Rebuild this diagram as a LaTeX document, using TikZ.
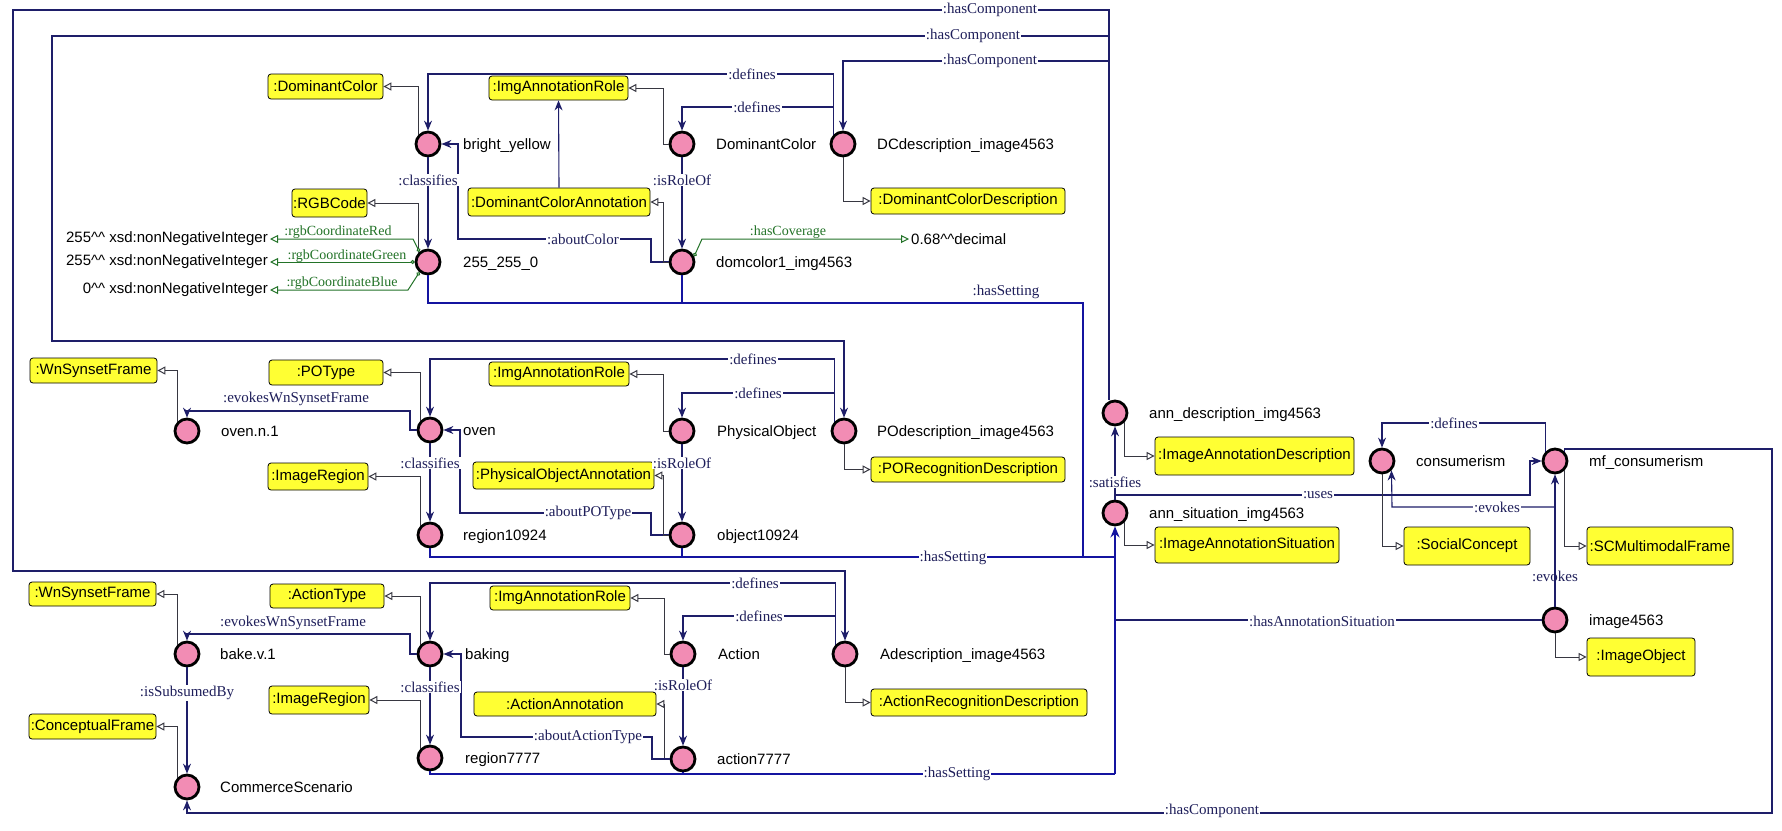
\documentclass[tikz,border=0pt]{standalone}
\usepackage{fontspec}
\setmainfont{Liberation Serif}
\setsansfont{Liberation Sans}
\usetikzlibrary{arrows.meta}
\definecolor{navy}{RGB}{30,30,105}
\definecolor{labc}{RGB}{30,30,90}
\definecolor{setc}{RGB}{20,20,160}
\definecolor{typc}{RGB}{55,55,65}
\definecolor{grnc}{RGB}{35,115,40}
\definecolor{pinkc}{RGB}{242,140,180}
\definecolor{yelc}{RGB}{255,255,51}
\begin{document}
\begin{tikzpicture}[x=1pt,y=-1pt,
  ind/.style={circle,draw=black,line width=2.8pt,fill=pinkc,minimum size=24pt,inner sep=0pt},
  cls/.style={rectangle,rounded corners=3pt,draw=black,line width=0.8pt,fill=yelc,inner sep=0pt,font=\sffamily\fontsize{15}{15}\selectfont},
  nl/.style={anchor=base west,inner sep=0pt,font=\sffamily\fontsize{15}{15}\selectfont},
  lit/.style={inner sep=2pt,font=\sffamily\fontsize{15}{15}\selectfont},
  el/.style={font=\fontsize{15}{15}\selectfont,text=labc,fill=white,inner sep=1pt},
  elnf/.style={font=\fontsize{15}{15}\selectfont,text=labc,inner sep=1pt},
  gl/.style={font=\fontsize{14}{14}\selectfont,text=grnc,inner sep=1pt},
  obj/.style={draw=navy,line width=1.1pt,-{Stealth[length=10pt,width=8pt]}},
  rel/.style={draw=navy,line width=1.1pt},
  typ/.style={draw=typc,line width=1pt,-{Triangle[open,length=8pt,width=8pt,fill=white]}},
  grn/.style={draw=grnc,line width=1pt,{Circle[open,length=4pt,fill=white]}-{Triangle[open,length=8pt,width=8pt,fill=white]}},
  hset/.style={draw=setc,line width=1.2pt},
]
\useasboundingbox (0,0) rectangle (1782,830);
\fill[white] (0,0) rectangle (1782,830);

% ---------- individuals ----------
\node[ind] (by) at (428,144) {};
\node[ind] (rgb) at (428,262) {};
\node[ind] (dc) at (682,144) {};
\node[ind] (dcd) at (843,144) {};
\node[ind] (dom) at (682,262) {};
\node[ind] (ovenn) at (187,431) {};
\node[ind] (oven) at (430,430) {};
\node[ind] (ra) at (430,535) {};
\node[ind] (po) at (682,431) {};
\node[ind] (pod) at (844,431) {};
\node[ind] (ob) at (682,535) {};
\node[ind] (bake) at (187,654) {};
\node[ind] (baking) at (430,654) {};
\node[ind] (rb) at (430,758) {};
\node[ind] (cs) at (187,787) {};
\node[ind] (action) at (683,654) {};
\node[ind] (adsc) at (845,654) {};
\node[ind] (act) at (683,759) {};
\node[ind] (ad) at (1115,413) {};
\node[ind] (as) at (1115,513) {};
\node[ind] (cons) at (1382,461) {};
\node[ind] (mf) at (1555,461) {};
\node[ind] (img) at (1555,620) {};

% ---------- individual names ----------
\node[nl] at (463,149) {bright\_yellow};
\node[nl] at (463,267) {255\_255\_0};
\node[nl] at (716,149) {DominantColor};
\node[nl] at (877,149) {DCdescription\_image4563};
\node[nl] at (716,267) {domcolor1\_img4563};
\node[nl] at (221,436) {oven.n.1};
\node[nl] at (463,435) {oven};
\node[nl] at (463,540) {region10924};
\node[nl] at (717,436) {PhysicalObject};
\node[nl] at (877,436) {POdescription\_image4563};
\node[nl] at (717,540) {object10924};
\node[nl] at (220,659) {bake.v.1};
\node[nl] at (465,659) {baking};
\node[nl] at (465,763) {region7777};
\node[nl] at (220,792) {CommerceScenario};
\node[nl] at (718,659) {Action};
\node[nl] at (880,659) {Adescription\_image4563};
\node[nl] at (717,764) {action7777};
\node[nl] at (1149,418) {ann\_description\_img4563};
\node[nl] at (1149,518) {ann\_situation\_img4563};
\node[nl] at (1416,466) {consumerism};
\node[nl] at (1589,466) {mf\_consumerism};
\node[nl] at (1589,625) {image4563};

% ---------- classes ----------
\node[cls,minimum width=115pt,minimum height=25pt] (bDomColor) at (325.5,86.5) {:DominantColor};
\node[cls,minimum width=75pt,minimum height=28pt] (bRGB) at (329.5,203) {:RGBCode};
\node[cls,minimum width=139pt,minimum height=24pt] (bIAR1) at (558.5,88) {:ImgAnnotationRole};
\node[cls,minimum width=182pt,minimum height=28pt] (bDCA) at (559,202) {:DominantColorAnnotation};
\node[cls,minimum width=194pt,minimum height=26pt] (bDCD) at (968,201) {:DominantColorDescription};
\node[cls,minimum width=127pt,minimum height=25pt] (bWn1) at (93.5,370.5) {:WnSynsetFrame};
\node[cls,minimum width=114pt,minimum height=25pt] (bPOType) at (326,372.5) {:POType};
\node[cls,minimum width=100pt,minimum height=27pt] (bIR1) at (318,476.5) {:ImageRegion};
\node[cls,minimum width=140pt,minimum height=24pt] (bIAR2) at (559,374) {:ImgAnnotationRole};
\node[cls,minimum width=181pt,minimum height=27pt] (bPOA) at (563.5,475.5) {:PhysicalObjectAnnotation};
\node[cls,minimum width=194pt,minimum height=25pt] (bPORD) at (968,469.5) {:PORecognitionDescription};
\node[cls,minimum width=199pt,minimum height=38pt] (bIAD) at (1254.5,456) {:ImageAnnotationDescription};
\node[cls,minimum width=184pt,minimum height=36pt] (bIAS) at (1247,545) {:ImageAnnotationSituation};
\node[cls,minimum width=126pt,minimum height=38pt] (bSC) at (1467,546) {:SocialConcept};
\node[cls,minimum width=146pt,minimum height=38pt] (bSCM) at (1660,546) {:SCMultimodalFrame};
\node[cls,minimum width=108pt,minimum height=38pt] (bIO) at (1641,657) {:ImageObject};
\node[cls,minimum width=127pt,minimum height=24pt] (bWn2) at (92.5,594) {:WnSynsetFrame};
\node[cls,minimum width=114pt,minimum height=24pt] (bAT) at (327,596) {:ActionType};
\node[cls,minimum width=100pt,minimum height=28pt] (bIR2) at (319,700) {:ImageRegion};
\node[cls,minimum width=127pt,minimum height=25pt] (bCF) at (92.5,726.5) {:ConceptualFrame};
\node[cls,minimum width=140pt,minimum height=24pt] (bIAR3) at (560,598) {:ImgAnnotationRole};
\node[cls,minimum width=182pt,minimum height=24pt] (bAA) at (565,704) {:ActionAnnotation};
\node[cls,minimum width=216pt,minimum height=27pt] (bARD) at (979,702.5) {:ActionRecognitionDescription};

% ---------- literals ----------
\node[lit,anchor=east] (lit1) at (270,239) {255\textasciicircum\textasciicircum{} xsd:nonNegativeInteger};
\node[lit,anchor=east] (lit2) at (270,262) {255\textasciicircum\textasciicircum{} xsd:nonNegativeInteger};
\node[lit,anchor=east] (lit3) at (270,290) {0\textasciicircum\textasciicircum{} xsd:nonNegativeInteger};
\node[lit,anchor=west] (lit4) at (909,239) {0.68\textasciicircum\textasciicircum decimal};

% ---------- hasComponent ----------
\draw[obj] ([xshift=-6pt]ad.north) -- (1109,10) -- (13,10) -- (13,571) -- (845,571) -- (adsc.north);
\draw[obj] ([xshift=-6pt]ad.north) -- (1109,36) -- (52,36) -- (52,341) -- (844,341) -- (pod.north);
\draw[obj] ([xshift=-6pt]ad.north) -- (1109,61) -- (843,61) -- (dcd.north);
\draw[obj] (mf.north east) |- (1772,449) -- (1772,813) -- (187,813) -- (cs.south);

% ---------- row 1 ----------
\draw[obj] (dcd.north west) |- (428,74) -- (by.north);
\draw[obj] (dcd.north west) |- (682,107) -- (dc.north);
\draw[obj] (dc.south) -- (dom.north);
\draw[obj] (by.south) -- (rgb.north);
\draw[obj] (dom.west) -- (651,262) -- (651,239) -- (458,239) |- (by.east);
\draw[obj] (bDCA.north) -- (bIAR1.south);
\draw[typ] (by.north west) |- (bDomColor.east);
\draw[typ] (rgb.north west) |- (bRGB.east);
\draw[typ] (dc.west) -- ++(-5,0) |- (bIAR1.east);
\draw[typ] (dom.west) -- ++(-5,0) |- (bDCA.east);
\draw[typ] (dcd.south) |- (bDCD.west);
\draw[grn] (rgb.130) -- (413,239) -- (lit1.east);
\draw[grn] (rgb.west) -- (lit2.east);
\draw[grn] (rgb.230) -- (408,290) -- (lit3.east);
\draw[grn] (dom.25) -- (702,239) -- (lit4.west);

% ---------- row 2 ----------
\draw[obj] (pod.north west) |- (430,359) -- (oven.north);
\draw[obj] (pod.north west) |- (682,393) -- (po.north);
\draw[obj] (oven.west) -- (410,430) |- (187,411) -- (ovenn.north);
\draw[typ] (oven.north west) |- (bPOType.east);
\draw[typ] (ovenn.north west) |- (bWn1.east);
\draw[obj] (oven.south) -- (ra.north);
\draw[typ] (ra.north west) |- (bIR1.east);
\draw[obj] (ob.west) -- (651,535) -- (651,513) -- (460,513) |- (oven.east);
\draw[typ] (po.west) -- ++(-5,0) |- (bIAR2.east);
\draw[obj] (po.south) -- (ob.north);
\draw[typ] (ob.west) -- ++(-5,0) |- (bPOA.east);
\draw[typ] (pod.south) |- (bPORD.west);

% ---------- row 3 ----------
\draw[obj] (adsc.north west) |- (430,583) -- (baking.north);
\draw[obj] (adsc.north west) |- (683,616) -- (action.north);
\draw[obj] (baking.west) -- (410,654) |- (187,634) -- (bake.north);
\draw[typ] (baking.north west) |- (bAT.east);
\draw[typ] (bake.north west) |- (bWn2.east);
\draw[obj] (bake.south) -- (cs.north);
\draw[typ] (cs.north west) |- (bCF.east);
\draw[obj] (baking.south) -- (rb.north);
\draw[typ] (rb.north west) |- (bIR2.east);
\draw[typ] (action.west) -- ++(-5,0) |- (bIAR3.east);
\draw[obj] (action.south) -- (act.north);
\draw[typ] (act.west) -- ++(-5,0) |- (bAA.east);
\draw[obj] (act.west) -- (652,759) -- (652,737) -- (461,737) |- (baking.east);
\draw[typ] (adsc.south) |- (bARD.west);

% ---------- hasSetting / situation ----------
\coordinate (trunk) at (1115,774);
\draw[hset] (rgb.south) -- (428,303) -- (1083,303) -- (1083,557) -- (1115,557);
\draw[hset] (dom.south) -- (682,303);
\draw[hset] (ra.south) -- (430,557) -- (1115,557);
\draw[hset] (ob.south) -- (682,557);
\draw[hset] (rb.south) -- (430,774) -- (trunk);
\draw[hset] (act.south) -- (683,774);
\draw[rel] (img.west) -- (1115,620);
\draw[hset,line width=2.4pt,-{Stealth[length=11pt,width=9pt]}] (trunk) -- (as.south);
\draw[obj] (as.north) -- (ad.south);
\draw[obj] (as.north) -- (1115,495) -- (1530,495) -- (1530,461) -- (mf.west);
\draw[obj] (mf.north west) |- (1382,423) -- (cons.north);
\draw[obj] (img.north) -- (1555,507) -- (1392,507) -- (cons.south east);
\draw[obj] (img.north) -- (mf.south);
\draw[typ] (cons.south) |- (bSC.west);
\draw[typ] (mf.south east) |- (bSCM.west);
\draw[typ] (img.south) |- (bIO.west);
\draw[typ] (ad.south east) |- (bIAD.west);
\draw[typ] (as.south east) |- (bIAS.west);

% ---------- edge labels ----------
\node[el] at (990,10) {:hasComponent};
\node[el] at (973,36) {:hasComponent};
\node[el] at (990,61) {:hasComponent};
\node[el] at (1212,811) {:hasComponent};
\node[el] at (752,74) {:defines};
\node[el] at (757,107) {:defines};
\node[el] at (753,359) {:defines};
\node[el] at (758,393) {:defines};
\node[el] at (755,583) {:defines};
\node[el] at (759,616) {:defines};
\node[el] at (1454,423) {:defines};
\node[el] at (428,180) {:classifies};
\node[el] at (430,463) {:classifies};
\node[el] at (430,687) {:classifies};
\node[el] at (682,180) {:isRoleOf};
\node[el] at (682,463) {:isRoleOf};
\node[el] at (683,685) {:isRoleOf};
\node[el] at (583,239) {:aboutColor};
\node[el] at (588,513) {:aboutPOType};
\node[el] at (588,737) {:aboutActionType};
\node[gl] at (788,232) {:hasCoverage};
\node[gl] at (338,232) {:rgbCoordinateRed};
\node[gl] at (347,256) {:rgbCoordinateGreen};
\node[gl] at (342,283) {:rgbCoordinateBlue};
\node[elnf] at (1006,292) {:hasSetting};
\node[el] at (953,558) {:hasSetting};
\node[el] at (957,774) {:hasSetting};
\node[elnf] at (296,399) {:evokesWnSynsetFrame};
\node[elnf] at (293,623) {:evokesWnSynsetFrame};
\node[el] at (187,693) {:isSubsumedBy};
\node[el] at (1115,482) {:satisfies};
\node[el] at (1318,495) {:uses};
\node[el] at (1497,507) {:evokes};
\node[elnf] at (1555,576) {:evokes};
\node[el] at (1322,621) {:hasAnnotationSituation};
\end{tikzpicture}
\end{document}
